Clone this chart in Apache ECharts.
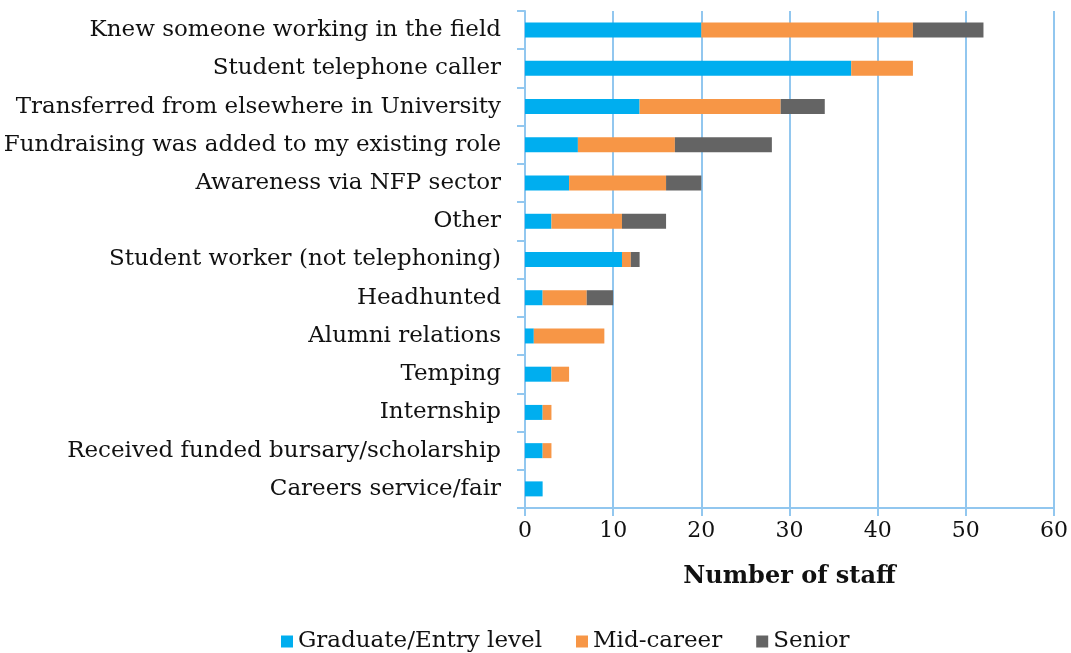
<!DOCTYPE html>
<html>
<head>
<meta charset="utf-8">
<script src="https://cdn.jsdelivr.net/npm/echarts@6/dist/echarts.min.js"></script>
<style>
  html, body { margin: 0; padding: 0; background: #fff; }
  #chart { width: 1071px; height: 653px; }
</style>
</head>
<body>
<div id="chart"></div>
<script>
// categories, top to bottom
var categories = [
  "Knew someone working in the field",
  "Student telephone caller",
  "Transferred from elsewhere in University",
  "Fundraising was added to my existing role",
  "Awareness via NFP sector",
  "Other",
  "Student worker (not telephoning)",
  "Headhunted",
  "Alumni relations",
  "Temping",
  "Internship",
  "Received funded bursary/scholarship",
  "Careers service/fair"
];
var graduate = [20, 37, 13, 6, 5, 3, 11, 2, 1, 3, 2, 2, 2];
var midCareer = [24, 7, 16, 11, 11, 8, 1, 5, 8, 2, 1, 1, 0];
var senior = [8, 0, 5, 11, 4, 5, 1, 3, 0, 0, 0, 0, 0];
var xTicks = [0, 10, 20, 30, 40, 50, 60];

var font = "DejaVu Serif";
var lineBlue = "#92c7ef";

var chart = echarts.init(document.getElementById("chart"));

function bar(name, values, color) {
  return {
    name: name,
    type: "bar",
    stack: "total",
    barWidth: 15,
    data: values,
    itemStyle: { color: color },
    emphasis: { disabled: true }
  };
}

var option = {
  animation: false,
  textStyle: { fontFamily: font },
  grid: { left: 525, right: 16, top: 11, bottom: 145 },
  legend: {
    left: 276,
    top: 625,
    icon: "rect",
    itemWidth: 12,
    itemHeight: 12,
    itemGap: 34,
    textStyle: { fontFamily: font, fontSize: 23, color: "#111" },
    data: ["Graduate/Entry level", "Mid-career", "Senior"]
  },
  xAxis: {
    type: "value",
    min: xTicks[0],
    max: xTicks[xTicks.length - 1],
    interval: 10,
    name: "Number of staff",
    nameLocation: "middle",
    nameGap: 57,
    nameTextStyle: { fontFamily: font, fontSize: 24, fontWeight: "bold", color: "#111" },
    axisLine: { show: true, lineStyle: { color: lineBlue, width: 2 } },
    axisTick: { show: true, length: 8, lineStyle: { color: lineBlue, width: 2 } },
    axisLabel: { fontFamily: font, fontSize: 22, color: "#111", margin: 12 },
    splitLine: { show: true, lineStyle: { color: lineBlue, width: 2 } }
  },
  yAxis: {
    type: "category",
    inverse: true,
    data: categories,
    axisLine: { show: true, lineStyle: { color: lineBlue, width: 2 } },
    axisTick: { show: true, length: 8, lineStyle: { color: lineBlue, width: 2 } },
    axisLabel: { fontFamily: font, fontSize: 23, color: "#111", margin: 24 }
  },
  series: [
    bar("Graduate/Entry level", graduate, "#00aeef"),
    bar("Mid-career", midCareer, "#f79646"),
    bar("Senior", senior, "#646464")
  ]
};

chart.setOption(option);
</script>
</body>
</html>
